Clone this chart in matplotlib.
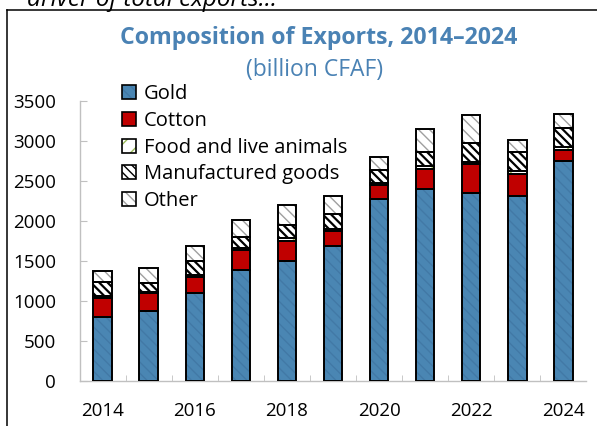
import numpy as np
import matplotlib.pyplot as plt
from matplotlib.patches import Patch
from matplotlib.lines import Line2D
from matplotlib.legend_handler import HandlerTuple

plt.rcParams['font.family'] = ['Open Sans', 'DejaVu Sans']

years = [2014, 2015, 2016, 2017, 2018, 2019, 2020, 2021, 2022, 2023, 2024]
gold = [800, 875, 1096, 1387, 1496, 1684, 2275, 2400, 2342, 2309, 2750]
cotton = [240, 217, 196, 250, 254, 187, 167, 250, 363, 271, 134]
food = [20, 20, 28, 28, 28, 25, 25, 33, 33, 40, 40]
manufactured = [180, 105, 176, 131, 164, 184, 167, 176, 237, 235, 231]
other = [135, 188, 188, 213, 258, 229, 162, 291, 346, 157, 175]

# name, values, fill, hatch colour, hatch, hatch line width
series = [
    ('Gold', gold, '#4a86b3', '#4279a6', '\\\\\\', 1.0),
    ('Cotton', cotton, '#c00000', '#c00000', None, 1.0),
    ('Food and live animals', food, 'white', '#9bbb59', '//', 1.0),
    ('Manufactured goods', manufactured, 'white', 'black', '\\\\\\\\', 1.6),
    ('Other', other, 'white', '#a0a0a0', '\\\\\\', 1.0),
]

title_color = '#4a82b4'
axis_gray = '#c0c0c0'

fig = plt.figure(figsize=(5.97, 4.26), dpi=100)
ax = fig.add_axes([0.1332, 0.1063, 0.8492, 0.6573])

x = np.array(years)
width = 0.4
bottom = np.zeros(len(years))
handles = []
for name, vals, face, hcol, hatch, hlw in series:
    plt.rcParams['hatch.linewidth'] = hlw
    vals = np.array(vals, dtype=float)
    ax.bar(x, vals, width, bottom=bottom, color=face, edgecolor=hcol,
           hatch=hatch, linewidth=0, zorder=2)
    ax.bar(x, vals, width, bottom=bottom, facecolor='none',
           edgecolor='black', linewidth=1.4, zorder=3)
    bottom += vals
    h1 = Patch(facecolor=face, edgecolor=hcol, hatch=hatch, linewidth=0)
    h2 = Patch(facecolor='none', edgecolor='black', linewidth=1.2)
    handles.append((h1, h2))
plt.rcParams['hatch.linewidth'] = 1.0

ax.set_xlim(2013.5, 2024.5)
ax.set_ylim(0, 3500)
ax.set_yticks(range(0, 3501, 500))
ax.set_xticks(years[::2])
ax.set_xticks(np.arange(2014.5, 2024, 1), minor=True)

for s in ['top', 'right']:
    ax.spines[s].set_visible(False)
for s in ['left', 'bottom']:
    ax.spines[s].set_color(axis_gray)
    ax.spines[s].set_linewidth(1.0)
    ax.spines[s].set_zorder(1)

ax.tick_params(axis='y', direction='in', length=5, color=axis_gray,
               labelsize=13.5, pad=17)
ax.tick_params(axis='x', which='major', length=0, labelsize=13.5, pad=15)
ax.tick_params(axis='x', which='minor', direction='in', length=4,
               color=axis_gray)

leg = ax.legend(handles, [s[0] for s in series],
                handler_map={tuple: HandlerTuple(ndivide=1, pad=0)},
                loc='upper left', bbox_to_anchor=(0.068, 1.087),
                frameon=False, fontsize=14.5, handlelength=0.7,
                handleheight=0.7, handletextpad=0.4, labelspacing=0.33,
                borderaxespad=0)

fig.text(0.533, 0.91, 'Composition of Exports, 2014\u20132024',
         ha='center', va='center', fontsize=16.7, fontweight='bold',
         color=title_color)
fig.text(0.527, 0.835, '(billion CFAF)', ha='center', va='center',
         fontsize=16.5, color=title_color)

fig.text(0.045, 1 - 6 / 426, 'driver of total exports...', ha='left',
         va='baseline', fontsize=17.5, style='italic', color='black')

fig.add_artist(Line2D([7 / 597, 1.0], [1 - 10 / 426, 1 - 10 / 426],
                      color='black', linewidth=1.1))
fig.add_artist(Line2D([7 / 597, 7 / 597], [0, 1 - 10 / 426],
                      color='black', linewidth=1.1))

fig.savefig('out.png', dpi=100)
